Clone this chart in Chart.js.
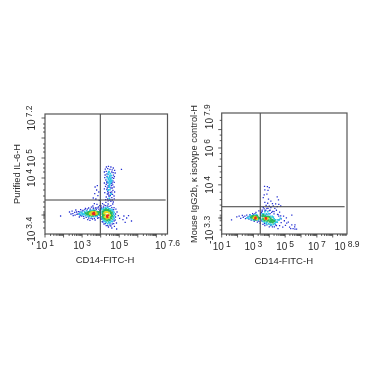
<!DOCTYPE html>
<html><head><meta charset="utf-8">
<script src="https://cdn.jsdelivr.net/npm/chart.js@4"></script>
<style>
html,body{margin:0;padding:0;background:#fff;width:370px;height:370px;overflow:hidden}
canvas{position:absolute;top:0;filter:blur(0.5px)}
#a{left:0}#b{left:185px}
</style></head><body>
<canvas id="a" width="185" height="370"></canvas>
<canvas id="b" width="185" height="370"></canvas>
<script>
// ---- tick labels: [axis position, text before exponent, exponent]
const leftXLabels=[[1,'10','1'],[3,'10','3'],[5,'10','5'],[7.6,'10','7.6']];
const leftYLabels=[[7.0,'10','7.2'],[5,'10','5'],[4,'10','4'],[1.35,'-10','3.4']];
const rightXLabels=[[1,'10','1'],[3,'10','3'],[5,'10','5'],[7,'10','7'],[8.9,'10','8.9']];
const rightYLabels=[[7.7,'10','7.9'],[6,'10','6'],[4,'10','4'],[1.55,'-10','3.3']];
const leftYMajor=[7,6,5,4,2.15];
const leftYMinor=[6.7,6.5,6.3,5.7,5.5,5.3,4.7,4.5,4.3,3.7,3.4,3.1,2.8,2.55,2.3,2.2,2.1,2.0,1.8,1.5];
const rightYMajor=[7,6,5,4,2.2];
const rightYMinor=[7.5,6.7,6.4,5.7,5.4,4.7,4.4,3.6,3.2,2.9,2.6,2.35,2.25,2.15,2.05,1.8,1.55];
// ---- quadrant gates
const leftGate={x:3.98,y:2.9};
const rightGate={x:3.43,y:2.81};

// ---- left panel events (log10 CD14-FITC-H, display position on Purified IL-6-H), by density colour
const leftBlue=[[4.31,4.55],[4.42,4.58],[4.55,4.55],[4.68,4.5],[4.25,4.44],[4.38,4.47],[4.5,4.43],[4.62,4.41],[4.75,4.38],[4.2,4.3],[4.3,4.33],[4.67,4.27],[4.78,4.25],[4.24,4.15],[4.69,4.14],[4.74,4.07],[4.22,4.02],[4.7,3.98],[4.28,3.9],[4.66,3.85],[4.73,3.78],[4.2,3.75],[4.3,3.68],[4.65,3.66],[4.26,3.58],[4.72,3.55],[4.2,3.46],[4.33,3.42],[4.66,3.38],[4.75,3.3],[4.22,3.27],[4.36,3.2],[4.64,3.18],[4.72,3.1],[4.3,3.05],[4.45,3.08],[4.6,3.02],[4.73,2.96],[4.27,2.92],[4.4,2.86],[4.55,2.83],[4.68,2.8],[4.35,3.75],[4.58,3.72],[4.41,3.55],[4.55,3.5],[4.38,3.32],[4.52,3.28],[4.44,3.15],[4.58,3.62],
[3.82,3.62],[3.7,3.55],[3.78,3.4],[3.9,3.3],[3.68,3.22],[3.85,3.12],[3.6,3.0],[3.74,2.95],[3.92,2.88],[3.66,2.72],[3.8,2.68],[3.88,2.55],[3.72,2.5],[3.95,2.62],[3.58,2.6],[5.12,4.43],
[1.84,2.1],[2.32,2.3],[2.4,2.2],[2.46,2.34],[2.52,2.12],[2.6,2.28],[2.66,2.4],[2.72,2.18],[2.8,2.32],[2.85,2.05],[2.92,2.42],[2.98,2.1],[3.05,2.38],[3.1,1.98],[3.18,2.48],[3.22,2.03],[3.3,1.92],[3.35,2.5],[3.42,1.88],[3.5,2.54],[3.56,1.95],[3.62,2.46],[3.7,1.9],[3.76,2.42],[3.84,1.98],[3.9,2.44],
[4.02,2.6],[4.1,2.72],[4.18,2.66],[4.28,2.78],[4.4,2.7],[4.55,2.62],[4.65,2.7],[4.72,2.52],[4.82,2.44],[4.88,2.3],[4.95,2.12],[5.02,1.98],[4.78,1.9],[4.85,1.75],[4.7,1.72],[4.55,1.6],[4.42,1.55],[4.3,1.62],[4.18,1.7],[4.08,1.82],[4.0,2.45],[4.74,1.58],[4.6,1.5],[5.25,2.1],[5.4,2.0],[5.66,1.85],[5.32,1.78],[5.2,1.92],[5.5,2.12],[4.86,1.45],
[4.34,4.2],[4.6,4.3],[4.34,4.08],[4.62,4.02],[4.32,3.8],[4.62,3.76],[4.4,3.62],[4.62,3.5],[4.35,3.5],[4.48,3.56],[4.42,3.25],[4.6,3.3],[4.52,3.12],[4.38,2.95],[4.5,2.9],[4.62,2.9],
[2.5,2.22],[2.62,2.14],[2.7,2.3],[2.78,2.2],[2.88,2.3],[2.9,2.12],[3.0,2.34],[3.08,2.08],[3.15,2.42],[3.28,2.44],[3.36,2.0],[3.45,2.44],[3.48,1.98],[3.6,2.5],[3.66,1.98],[3.8,2.5],[3.82,2.06],[3.9,2.02],[3.96,2.38],
[4.05,2.5],[4.15,2.55],[4.25,2.62],[4.35,2.6],[4.45,2.58],[4.6,2.52],[4.7,2.42],[4.8,2.2],[4.8,2.05],[4.72,1.85],[4.62,1.7],[4.5,1.65],[4.38,1.62],[4.25,1.72],[4.12,1.8],[4.03,1.95]];
const leftCyan=[[4.45,4.32],[4.52,4.22],[4.4,4.18],[4.58,4.12],[4.48,4.05],[4.36,4.02],[4.55,3.98],[4.42,3.92],[4.5,3.85],[4.6,3.88],[4.38,3.82],[4.47,3.65],[4.4,3.4],[4.5,3.42],[4.56,3.2],[4.47,2.98],
[2.85,2.2],[2.95,2.28],[3.02,2.16],[3.12,2.32],[3.18,2.12],[3.25,2.36],[3.32,2.08],[3.42,2.38],[3.5,2.06],[3.62,2.38],[3.72,2.08],[3.82,2.32],[3.92,2.14],[3.95,2.28],
[4.05,2.42],[4.14,2.46],[4.25,2.5],[4.38,2.52],[4.5,2.46],[4.62,2.42],[4.72,2.28],[4.74,2.12],[4.72,1.98],[4.62,1.82],[4.5,1.75],[4.38,1.72],[4.25,1.82],[4.12,1.92],[4.05,2.05],
[3.0,2.24],[3.1,2.2],[3.15,2.28],[3.22,2.18],[3.3,2.28],[3.38,2.1],[3.45,2.34],[3.55,2.38],[3.62,2.08],[3.72,2.34],[3.8,2.12],[3.88,2.22],[3.94,2.2],[2.92,2.18],
[4.08,2.3],[4.12,2.12],[4.16,2.42],[4.3,2.48],[4.44,2.46],[4.56,2.38],[4.66,2.34],[4.68,2.2],[4.68,2.05],[4.66,1.92],[4.56,1.84],[4.44,1.8],[4.3,1.78],[4.18,1.86],[4.1,1.98],
[4.42,4.28],[4.5,4.12],[4.44,3.98],[4.52,3.92],[4.56,3.8],[4.44,3.76],[4.52,3.72],[4.46,3.55]];
const leftGreen=[[3.2,2.24],[3.28,2.18],[3.36,2.3],[3.42,2.14],[3.5,2.32],[3.56,2.12],[3.66,2.36],[3.74,2.15],[3.8,2.26],[3.86,2.2],[3.9,2.3],
[4.1,2.2],[4.12,2.32],[4.2,2.38],[4.28,2.42],[4.4,2.4],[4.5,2.34],[4.6,2.26],[4.62,2.12],[4.58,1.98],[4.48,1.9],[4.36,1.88],[4.25,1.95],[4.14,2.02],[4.18,2.12],[4.55,2.2],
[3.3,2.26],[3.36,2.2],[3.44,2.28],[3.46,2.18],[3.75,2.28],[3.8,2.18],[3.84,2.28],
[4.16,2.28],[4.16,2.18],[4.24,2.36],[4.34,2.36],[4.46,2.34],[4.54,2.28],[4.56,2.1],[4.52,2.02],[4.42,1.94],[4.3,1.92],[4.2,1.98],[4.12,2.1]];
const leftYellow=[[3.42,2.22],[3.5,2.28],[3.5,2.16],[3.58,2.3],[3.78,2.22],[3.72,2.3],[3.7,2.2],
[4.2,2.24],[4.26,2.3],[4.34,2.3],[4.44,2.26],[4.5,2.14],[4.44,2.02],[4.32,1.98],[4.22,2.06],[4.28,2.16]];
const leftRed=[[3.58,2.22],[3.64,2.26],[3.66,2.18],[3.62,2.2],[4.34,2.1],[4.4,2.14],[4.36,2.04]];

// ---- right panel events
const rightBlue=[[3.7,3.92],[3.88,3.9],[4.0,3.85],[3.72,3.72],[3.92,3.7],[3.68,3.45],[4.5,3.35],[4.58,3.18],[3.85,3.5],[3.62,3.3],[3.95,3.22],[4.1,3.12],[3.72,3.05],[3.9,3.0],[4.2,2.98],[4.4,2.96],[4.6,2.94],[3.8,2.88],[4.0,2.84],[4.25,2.86],[4.5,2.82],[4.72,2.86],[3.62,2.76],[3.85,2.72],[4.1,2.76],[4.35,2.72],[3.55,2.62],[3.72,2.58],[4.0,2.6],[4.22,2.56],[4.45,2.62],[4.65,2.52],
[1.62,2.1],[1.95,2.26],[2.1,2.3],[2.2,2.18],[2.3,2.34],[2.36,2.24],[2.46,2.3],[2.5,2.16],[2.58,2.36],[2.66,2.26],[2.72,2.14],[2.78,2.38],[2.86,2.08],[2.95,2.44],[3.05,2.02],[3.16,2.5],[3.25,1.98],[3.34,2.58],[3.42,1.92],[3.5,2.5],[3.6,1.85],[3.72,1.78],
[4.0,1.72],[4.2,1.72],[4.4,1.82],[4.55,1.62],[4.65,1.78],[4.75,1.95],[4.85,1.7],[4.95,2.05],[5.02,1.8],[5.1,1.92],[5.2,1.98],[5.28,1.7],[5.42,1.82],[5.62,1.82],[5.5,1.62],[5.42,2.35],[5.35,1.62],[5.62,1.6],[5.72,1.6],[5.6,1.72],[4.9,2.3],[4.72,2.32],[4.55,2.38],[4.3,2.42],[4.05,2.44],[3.85,2.4],[5.08,2.2],
[2.9,2.3],[3.0,2.38],[3.1,2.44],[3.2,2.08],[3.35,2.02],[3.45,2.42],[3.52,2.04],[3.55,2.55],[3.68,2.7],[3.78,2.62],[3.92,2.72],[4.05,2.62],[4.15,2.5],[4.3,2.55],[4.52,2.4],[4.6,2.3],[4.75,2.15],[4.45,1.78],[4.32,1.72],[4.1,1.78],[3.85,1.82],[3.7,1.9]];
const rightCyan=[[2.6,2.2],[2.75,2.28],[2.85,2.18],[2.92,2.32],[3.0,2.1],[3.18,2.38],[3.3,2.08],[3.55,2.42],[3.65,2.3],[3.75,2.36],[3.92,2.3],[3.6,2.02],[3.8,1.9],[3.95,1.88],[4.1,1.95],[4.25,2.25],[4.4,2.1],[4.5,1.98],[4.62,2.1],[4.15,1.82],[4.35,1.92],[4.7,2.18],[3.72,2.55],[3.9,2.55],
[2.7,2.18],[2.8,2.34],[2.88,2.12],[3.05,2.36],[3.12,2.08],[3.25,2.34],[3.4,2.16],[3.48,2.32],[3.52,2.12],[3.65,2.42],[3.82,2.42],[3.98,2.42],[4.05,2.28],[4.18,2.28],[4.3,2.15],[4.42,1.98],[4.55,2.1],[4.28,1.85],[4.05,1.85],[3.85,1.98],[3.7,1.98]];
const rightGreen=[[2.85,2.24],[2.95,2.22],[3.02,2.3],[3.1,2.12],[3.22,2.3],[3.3,2.18],[3.58,2.28],[3.62,2.14],[3.72,2.06],[3.85,2.25],[3.95,2.1],[4.02,2.0],[4.08,2.18],[4.18,2.1],[4.22,1.96],[4.32,2.04],[3.72,2.28],
[2.95,2.3],[3.05,2.14],[3.15,2.3],[3.28,2.24],[3.38,2.2],[3.62,2.36],[3.68,2.12],[3.78,2.28],[3.88,2.05],[3.98,2.25],[4.1,2.08],[4.25,2.05],[4.12,2.0]];
const rightYellow=[[3.02,2.2],[3.08,2.26],[3.18,2.22],[3.22,2.14],[3.72,2.18],[3.82,2.14],[3.9,2.18]];
const rightRed=[[3.12,2.18],[3.14,2.22],[3.78,2.2],[3.8,2.16]];

const xLabel='CD14-FITC-H';
const leftYTitle='Purified IL-6-H';
const rightYTitle='Mouse IgG2b, κ isotype control-H';
const minorMultipliers=[2,3,4,5,6,7,8,9];
const fontFam='"Liberation Sans",Arial,sans-serif';
const densityColors=['#e62a1e','#e6dc1e','#28b85a','#2ec4e6','#2430d2'];
const markerSizes=[1.5,1.5,1.5,1.25,0.9];

function toPts(a){return a.map(p=>({x:p[0],y:p[1]}));}

function panel(id,c){
  const decor={id:'decor',afterDraw(ch){
    const g=ch.ctx,A=ch.chartArea,X=ch.scales.x,Y=ch.scales.y;
    g.save();
    g.strokeStyle='#555';g.lineWidth=1.2;
    g.strokeRect(A.left,A.top,A.right-A.left,A.bottom-A.top);
    g.strokeStyle='#333';g.lineWidth=0.8;g.beginPath();
    for(let d=Math.floor(X.min);d<X.max;d++){
      const p0=X.getPixelForValue(d);
      if(d>=X.min&&d<=X.max){g.moveTo(p0,A.bottom);g.lineTo(p0,A.bottom+3.5);}
      minorMultipliers.forEach(m=>{const v=d+Math.log10(m);if(v<=X.max){const p=X.getPixelForValue(v);g.moveTo(p,A.bottom);g.lineTo(p,A.bottom+2);}});
    }
    c.yMajor.forEach(v=>{const p=Y.getPixelForValue(v);g.moveTo(A.left,p);g.lineTo(A.left-3.5,p);});
    c.yMinor.forEach(v=>{const p=Y.getPixelForValue(v);g.moveTo(A.left,p);g.lineTo(A.left-2,p);});
    g.stroke();
    g.fillStyle='#2a2a2a';g.textBaseline='alphabetic';
    const pair=(b,e)=>{
      g.font='10px '+fontFam;const w1=g.measureText(b).width;
      g.font='8.5px '+fontFam;const w2=g.measureText(e).width;
      const gap=2,tot=w1+gap+w2,s=-tot/2;
      g.textAlign='left';
      g.font='10px '+fontFam;g.fillText(b,s,0);
      g.font='8.5px '+fontFam;g.fillText(e,s+w1+gap,-3);
    };
    c.xLabels.forEach(t=>{g.save();g.translate(X.getPixelForValue(t[0]),c.xTickY);pair(t[1],t[2]);g.restore();});
    c.yLabels.forEach(t=>{g.save();g.translate(c.yTickX,Y.getPixelForValue(t[0]));g.rotate(-Math.PI/2);pair(t[1],t[2]);g.restore();});
    g.font='9.5px '+fontFam;g.textAlign='center';
    g.fillText(xLabel,c.xTitleX,c.xTitleY);
    g.save();g.translate(c.yTitleX,c.yTitleY);g.rotate(-Math.PI/2);g.font=c.yTitleFont+'px '+fontFam;g.fillText(c.yTitle,0,0);g.restore();
    g.restore();
  }};
  const gate=(data)=>({data,showLine:true,borderColor:'#3c3c3c',borderWidth:1,pointRadius:0,parsing:false});
  const datasets=[
    gate([{x:c.gate.x,y:c.ymin},{x:c.gate.x,y:c.ymax}]),
    gate([{x:c.xmin,y:c.gate.y},{x:c.gate.xEnd,y:c.gate.y}])
  ];
  c.layers.forEach((l,i)=>datasets.push({data:toPts(l),showLine:false,pointStyle:'rect',pointRadius:markerSizes[i],pointBorderWidth:0,pointBackgroundColor:densityColors[i],parsing:false}));
  new Chart(document.getElementById(id),{
    type:'scatter',
    data:{datasets},
    plugins:[decor],
    options:{
      responsive:false,animation:false,
      layout:{padding:{top:c.top,right:c.right,left:0,bottom:0}},
      plugins:{legend:{display:false},tooltip:{enabled:false}},
      scales:{
        x:{type:'linear',min:c.xmin,max:c.xmax,grid:{display:false},border:{display:false},ticks:{display:false},
           afterFit(s){s.height=c.bottom;}},
        y:{type:'linear',min:c.ymin,max:c.ymax,grid:{display:false},border:{display:false},ticks:{display:false},
           afterFit(s){s.width=c.left;}}
      }
    }
  });
}
panel('a',{left:45,right:17.5,top:114,bottom:136,xmin:1,xmax:7.6,ymin:1.2,ymax:7.2,
  gate:{x:leftGate.x,y:leftGate.y,xEnd:7.5},
  xLabels:leftXLabels,yLabels:leftYLabels,yMajor:leftYMajor,yMinor:leftYMinor,
  xTickY:249,yTickX:35,xTitleX:105,xTitleY:263,yTitleX:20,yTitleY:174,yTitle:leftYTitle,yTitleFont:9.3,
  layers:[leftRed,leftYellow,leftGreen,leftCyan,leftBlue]});
panel('b',{left:36.7,right:23,top:113,bottom:136,xmin:1,xmax:8.9,ymin:1.33,ymax:7.9,
  gate:{x:rightGate.x,y:rightGate.y,xEnd:8.75},
  xLabels:rightXLabels,yLabels:rightYLabels,yMajor:rightYMajor,yMinor:rightYMinor,
  xTickY:250,yTickX:28,xTitleX:98.7,xTitleY:264,yTitleX:12,yTitleY:174,yTitle:rightYTitle,yTitleFont:9.3,
  layers:[rightRed,rightYellow,rightGreen,rightCyan,rightBlue]});
</script>
</body></html>
